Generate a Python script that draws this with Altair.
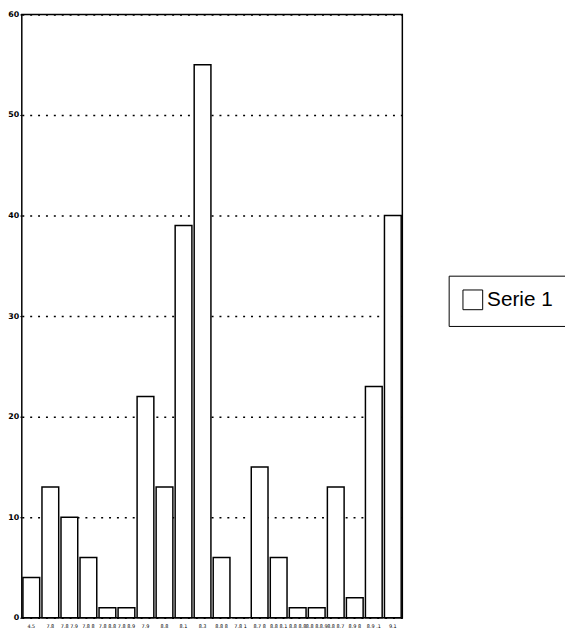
import altair as alt
import pandas as pd

categories = ["4.5", "7.8", "7.8 7.9", "7.8 8", "7.8 8.8", "7.8 8.9", "7.9", "8.8", "8.1", "8.3",
              "8.8 8", "7.8 1", "8.7 8", "8.8 8.1", "8.8 8.8", "8.8 8.8.9", "8.8 8.7", "8.9 8", "8.9 .1", "9.1"]
values = [4, 13, 10, 6, 1, 1, 22, 13, 39, 55, 6, 0, 15, 6, 1, 1, 13, 2, 23, 40]
series = ["Serie 1"] * len(categories)
y_ticks = [0, 10, 20, 30, 40, 50, 60]

df = pd.DataFrame({"cat": categories, "value": values, "series": series})

chart = alt.Chart(df).mark_bar(stroke="black", strokeWidth=1.5).encode(
    x=alt.X("cat:N", sort=categories, title=None,
            scale=alt.Scale(paddingInner=0.12, paddingOuter=0.06),
            axis=alt.Axis(labelAngle=0, labelFontSize=5, labelColor="black",
                          labelFont="DejaVu Sans", ticks=False, domain=False,
                          labelPadding=6, labelOverlap=False)),
    y=alt.Y("value:Q", title=None,
            scale=alt.Scale(domain=[0, 60], nice=False),
            axis=alt.Axis(values=y_ticks, labelFontSize=8, labelFontWeight="bold",
                          labelFont="DejaVu Sans", labelColor="black",
                          tickColor="black", tickSize=2, domain=False,
                          grid=True, gridColor="black", gridDash=[2, 6],
                          gridWidth=1.5, labelPadding=1)),
    fill=alt.Fill("series:N", title=None,
                  scale=alt.Scale(range=["white"]),
                  legend=alt.Legend(orient="none", legendX=433, legendY=265,
                                    symbolType="square", symbolSize=400,
                                    symbolStrokeColor="black", symbolFillColor="white",
                                    symbolStrokeWidth=1,
                                    labelFontSize=21, labelFont="Liberation Sans",
                                    labelColor="black", strokeColor="black",
                                    padding=14, fillColor="white")),
).properties(
    width=386, height=612,
    autosize=alt.AutoSizeParams(type="none"),
    padding={"left": 14, "top": 2, "right": 165, "bottom": 16},
).configure_view(
    stroke="black", strokeWidth=1.5
)

chart.save("out.html", embed_options={"renderer": "svg", "actions": False})
